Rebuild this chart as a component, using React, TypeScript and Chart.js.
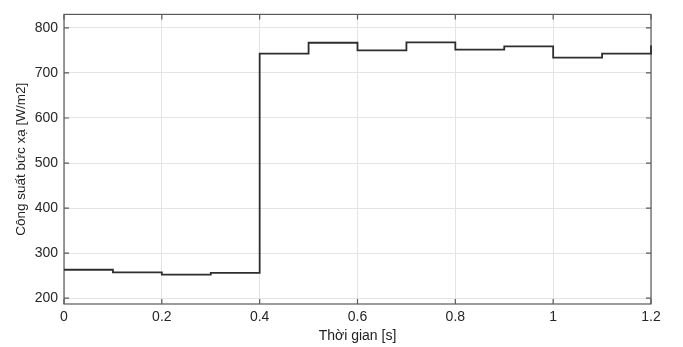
import React, { useEffect, useRef } from "react";
import { Chart, registerables } from "chart.js";

Chart.register(...registerables);

const times = [0, 0.1, 0.2, 0.3, 0.4, 0.5, 0.6, 0.7, 0.8, 0.9, 1.0, 1.1, 1.2];
const power = [263, 257, 252, 256, 743, 767, 750, 768, 752, 759, 734, 743, 761];
const xTickValues = [0, 0.2, 0.4, 0.6, 0.8, 1, 1.2];
const yTickValues = [200, 300, 400, 500, 600, 700, 800];

const FONT = "'Liberation Sans', Arial, sans-serif";

const boxPlugin = {
  id: "boxTicks",
  beforeDatasetsDraw(chart: any) {
    const { ctx, chartArea, scales } = chart;
    const { left, right, top, bottom } = chartArea;
    ctx.save();
    ctx.strokeStyle = "#5a5a5a";
    ctx.lineWidth = 1.2;
    ctx.strokeRect(left, top, right - left, bottom - top);
    const len = 5;
    ctx.beginPath();
    for (const v of xTickValues) {
      const x = scales.x.getPixelForValue(v);
      ctx.moveTo(x, bottom);
      ctx.lineTo(x, bottom - len);
      ctx.moveTo(x, top);
      ctx.lineTo(x, top + len);
    }
    for (const v of yTickValues) {
      const y = scales.y.getPixelForValue(v);
      ctx.moveTo(left, y);
      ctx.lineTo(left + len, y);
      ctx.moveTo(right, y);
      ctx.lineTo(right - len, y);
    }
    ctx.stroke();
    ctx.restore();
  },
};

export default function App() {
  const ref = useRef<HTMLCanvasElement>(null);
  useEffect(() => {
    document.body.style.margin = "0";
    const chart = new Chart(ref.current!, {
      type: "line",
      data: {
        datasets: [
          {
            data: times.map((t, i) => ({ x: t, y: power[i] })),
            stepped: "before",
            borderColor: "#2e2e2e",
            borderWidth: 1.8,
            pointRadius: 0,
            fill: false,
            clip: 2,
          },
        ],
      },
      options: {
        animation: false,
        responsive: false,
        layout: { padding: { top: 8, right: 32, left: 13, bottom: 0 } },
        plugins: { legend: { display: false }, tooltip: { enabled: false } },
        scales: {
          x: {
            type: "linear",
            min: 0,
            max: 1.2,
            afterFit: (s: any) => {
              s.height = 43;
            },
            afterBuildTicks: (s: any) => {
              s.ticks = xTickValues.map((v) => ({ value: v }));
            },
            ticks: {
              color: "#262626",
              font: { family: FONT, size: 14 },
              padding: 5,
              maxRotation: 0,
              callback: (v: any) => String(Math.round(Number(v) * 10) / 10),
            },
            grid: { color: "#e4e4e4", drawTicks: false, lineWidth: 1 },
            border: { display: false },
            title: {
              display: true,
              text: "Thời gian [s]",
              color: "#222",
              font: { family: FONT, size: 14 },
              padding: { top: 0, bottom: 2 },
            },
          },
          y: {
            type: "linear",
            min: 187,
            max: 830,
            afterFit: (s: any) => {
              s.width = 51;
            },
            afterBuildTicks: (s: any) => {
              s.ticks = yTickValues.map((v) => ({ value: v }));
            },
            ticks: {
              color: "#262626",
              font: { family: FONT, size: 14 },
              padding: 6,
            },
            grid: { color: "#e4e4e4", drawTicks: false, lineWidth: 1 },
            border: { display: false },
            title: {
              display: true,
              text: "Công suất bức xạ [W/m2]",
              color: "#222",
              font: { family: FONT, size: 13.5 },
              padding: { top: 0, bottom: 2 },
            },
          },
        },
      },
      plugins: [boxPlugin],
    });
    return () => chart.destroy();
  }, []);
  return (
    <div style={{ position: "fixed", left: 0, top: 0, width: 683, height: 347, background: "#fff" }}>
      <canvas ref={ref} width={683} height={347} />
    </div>
  );
}
